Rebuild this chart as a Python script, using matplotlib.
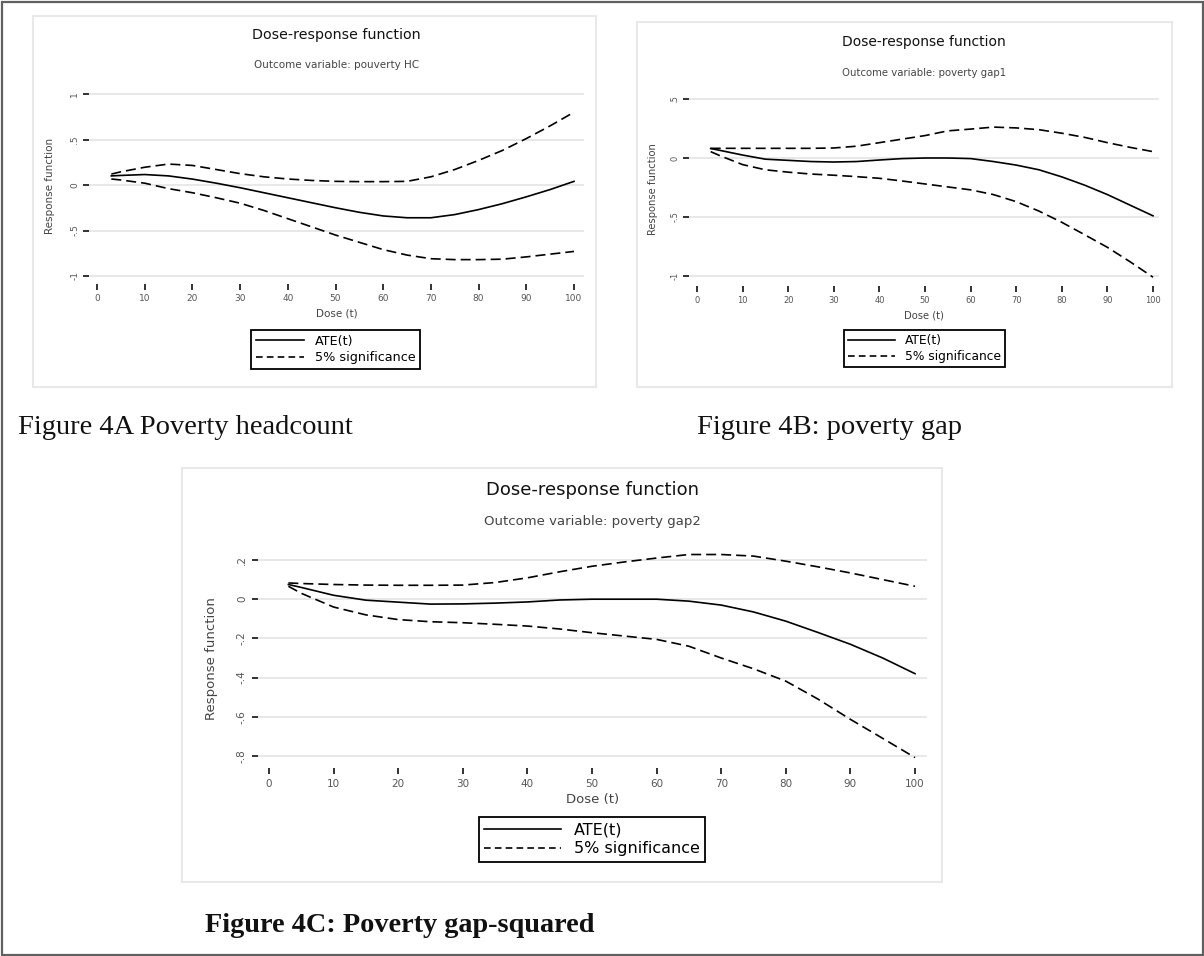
import matplotlib
matplotlib.use("Agg")
import matplotlib.pyplot as plt
from matplotlib.patches import Rectangle
from matplotlib.lines import Line2D

# Dose-response estimates (dose t, ATE and 5% bands)
dose = [3, 5, 10, 15, 20, 25, 30, 35, 40, 45, 50, 55, 60, 65, 70, 75, 80, 85, 90, 95, 100]

ate_hc = [0.10, 0.105, 0.115, 0.10, 0.065, 0.02, -0.03, -0.085, -0.14, -0.195, -0.25,
          -0.30, -0.34, -0.36, -0.36, -0.325, -0.27, -0.205, -0.13, -0.05, 0.04]
upper_hc = [0.12, 0.145, 0.195, 0.23, 0.215, 0.17, 0.125, 0.09, 0.066, 0.05, 0.04,
            0.037, 0.037, 0.04, 0.09, 0.17, 0.27, 0.38, 0.51, 0.65, 0.80]
lower_hc = [0.066, 0.055, 0.02, -0.04, -0.085, -0.14, -0.20, -0.28, -0.37, -0.46, -0.55,
            -0.63, -0.71, -0.77, -0.81, -0.82, -0.82, -0.815, -0.79, -0.76, -0.73]

ate_gap1 = [0.08, 0.065, 0.025, -0.01, -0.02, -0.03, -0.034, -0.03, -0.017, -0.005, 0.0,
            0.0, -0.005, -0.03, -0.06, -0.10, -0.16, -0.23, -0.31, -0.40, -0.49]
upper_gap1 = [0.082, 0.082, 0.082, 0.082, 0.082, 0.082, 0.085, 0.10, 0.13, 0.16, 0.19,
              0.23, 0.245, 0.262, 0.255, 0.24, 0.21, 0.175, 0.13, 0.09, 0.054]
lower_gap1 = [0.054, 0.02, -0.056, -0.10, -0.12, -0.136, -0.146, -0.158, -0.172, -0.195, -0.22,
              -0.245, -0.27, -0.31, -0.37, -0.45, -0.545, -0.65, -0.757, -0.88, -1.01]

ate_gap2 = [0.075, 0.06, 0.02, -0.005, -0.015, -0.025, -0.024, -0.02, -0.014, -0.004, 0.0,
            0.0, 0.0, -0.01, -0.03, -0.065, -0.112, -0.17, -0.23, -0.30, -0.38]
upper_gap2 = [0.083, 0.08, 0.075, 0.072, 0.071, 0.071, 0.072, 0.085, 0.109, 0.14, 0.168,
              0.19, 0.21, 0.228, 0.228, 0.22, 0.194, 0.165, 0.134, 0.10, 0.066]
lower_gap2 = [0.066, 0.03, -0.04, -0.08, -0.104, -0.115, -0.12, -0.128, -0.137, -0.152, -0.171,
              -0.188, -0.205, -0.24, -0.30, -0.355, -0.418, -0.51, -0.613, -0.71, -0.808]

x_ticks = [0, 10, 20, 30, 40, 50, 60, 70, 80, 90, 100]
y_ticks_hc = [1, 0.5, 0, -0.5, -1]
y_labels_hc = ["1", ".5", "0", "-.5", "-1"]
y_ticks_gap1 = [0.5, 0, -0.5, -1]
y_labels_gap1 = [".5", "0", "-.5", "-1"]
y_ticks_gap2 = [0.2, 0, -0.2, -0.4, -0.6, -0.8]
y_labels_gap2 = [".2", "0", "-.2", "-.4", "-.6", "-.8"]

W, H = 1204, 956
plt.rcParams['font.family'] = ['DejaVu Sans']
fig = plt.figure(figsize=(W / 100, H / 100), dpi=100)


def fig_rect(x0, y0, x1, y1):
    return [x0 / W, 1 - y1 / H, (x1 - x0) / W, (y1 - y0) / H]


def lin(p, p0, p1, v0, v1):
    return v0 + (p - p0) * (v1 - v0) / (p1 - p0)


def panel(box, ax_px, xmap, ymap, series, yticks, ylabels, subtitle, fs):
    # light frame around the graph
    bx0, by0, bx1, by1 = box
    fig.patches.append(Rectangle((bx0 / W, 1 - by1 / H), (bx1 - bx0) / W, (by1 - by0) / H,
                                 transform=fig.transFigure, fill=False,
                                 edgecolor='#e8e8e8', lw=1.5))
    x0, y0, x1, y1 = ax_px
    ax = fig.add_axes(fig_rect(x0, y0, x1, y1))
    ax.set_xlim(lin(x0, *xmap), lin(x1, *xmap))
    ax.set_ylim(lin(y1, *ymap), lin(y0, *ymap))
    for s in ax.spines.values():
        s.set_visible(False)
    for v in yticks:
        ax.axhline(v, color='#e6e6e6', lw=1.3, zorder=0)

    ate, upper, lower = series
    dash = (0, (6, 3))
    ax.plot(dose, ate, color='black', lw=1.2, label='ATE(t)')
    ax.plot(dose, upper, color='black', lw=1.2, linestyle=dash, label='5% significance')
    ax.plot(dose, lower, color='black', lw=1.2, linestyle=dash)

    ax.set_xticks(x_ticks)
    ax.set_xticklabels([str(t) for t in x_ticks])
    ax.set_yticks(yticks)
    ax.set_yticklabels(ylabels, rotation=90, va='center')
    ax.tick_params(axis='both', direction='out', color='#222222', width=1.3,
                   labelcolor='#555555', labelsize=fs['tick'])
    ax.tick_params(axis='x', length=fs['xtick_len'], pad=fs['xpad'])
    ax.tick_params(axis='y', length=fs['ytick_len'], pad=fs['ypad'])

    cx = (x0 + x1) / 2
    fig.text(cx / W, 1 - fs['title_y'] / H, 'Dose-response function', ha='center', va='center',
             fontsize=fs['title'], color='#111111')
    fig.text(cx / W, 1 - fs['sub_y'] / H, subtitle, ha='center', va='center',
             fontsize=fs['sub'], color='#444444')

    ax.set_xlabel('Dose (t)', fontsize=fs['label'], color='#444444')
    ax.xaxis.label.set_va('center')
    ax.xaxis.set_label_coords(cx / W, 1 - fs['xlabel_y'] / H, transform=fig.transFigure)
    ax.set_ylabel('Response function', fontsize=fs['label'], color='#444444')
    ax.yaxis.label.set_va('center')
    ax.yaxis.set_label_coords(fs['ylabel_x'] / W, 1 - (y0 + y1) / 2 / H, transform=fig.transFigure)

    lx0, ly0, lx1, ly1 = fs['legend']
    handles = [Line2D([], [], color='black', lw=1.2),
               Line2D([], [], color='black', lw=1.2, linestyle=(0, (4, 2.5)))]
    leg = ax.legend(handles, ['ATE(t)', '5% significance'], loc='center',
                    bbox_to_anchor=((lx0 + lx1) / 2 / W, 1 - (ly0 + ly1) / 2 / H),
                    bbox_transform=fig.transFigure, fancybox=False, framealpha=1,
                    edgecolor='black', fontsize=fs['legend_fs'], handlelength=fs['hlen'],
                    borderpad=0.35, labelspacing=0.25, handletextpad=0.8, borderaxespad=0)
    leg.get_frame().set_linewidth(1.3)
    return ax


panel((33, 16, 596, 387), (89, 88, 584, 284), (97, 574, 0, 100), (94, 276, 1, -1),
      (ate_hc, upper_hc, lower_hc), y_ticks_hc, y_labels_hc,
      'Outcome variable: pouverty HC',
      dict(tick=6.5, xtick_len=4, ytick_len=4, xpad=3, ypad=3, title=10.3, title_y=35,
           sub=7.5, sub_y=65, label=7.5, xlabel_y=313, ylabel_x=50,
           legend=(247, 328, 424, 371), legend_fs=9.2, hlen=3.8))

panel((637, 22, 1172, 387), (689, 93, 1159, 286), (697, 1153, 0, 100), (99, 276, 0.5, -1),
      (ate_gap1, upper_gap1, lower_gap1), y_ticks_gap1, y_labels_gap1,
      'Outcome variable: poverty gap1',
      dict(tick=6, xtick_len=4, ytick_len=4, xpad=3, ypad=3, title=10, title_y=42,
           sub=7.3, sub_y=73, label=7.2, xlabel_y=315, ylabel_x=653,
           legend=(840, 327, 1009, 370), legend_fs=8.8, hlen=3.8))

panel((182, 468, 942, 882), (258, 550, 927, 768), (269, 915, 0, 100), (560, 756, 0.2, -0.8),
      (ate_gap2, upper_gap2, lower_gap2), y_ticks_gap2, y_labels_gap2,
      'Outcome variable: poverty gap2',
      dict(tick=7.5, xtick_len=4.5, ytick_len=4.5, xpad=3.5, ypad=3.5, title=13, title_y=490,
           sub=9.5, sub_y=522, label=9.5, xlabel_y=799, ylabel_x=212,
           legend=(472, 816, 712, 863), legend_fs=11.5, hlen=4.8))

# figure captions
serif = ['Liberation Serif', 'DejaVu Serif']
fig.text(18 / W, 1 - 428 / H, 'Figure 4A Poverty headcount', ha='left', va='center',
         fontsize=20.5, family=serif, color='#111111')
fig.text(697 / W, 1 - 428 / H, 'Figure 4B: poverty gap', ha='left', va='center',
         fontsize=20.5, family=serif, color='#111111')
fig.text(205 / W, 1 - 925 / H, 'Figure 4C: Poverty gap-squared', ha='left', va='center',
         fontsize=20.3, family=serif, weight='bold', color='#111111')

# outer frame
fig.patches.append(Rectangle((1.5 / W, 1.5 / H), (W - 3) / W, (H - 3) / H,
                             transform=fig.transFigure, fill=False,
                             edgecolor='#606060', lw=1.6))

fig.savefig('out.png', dpi=100)
